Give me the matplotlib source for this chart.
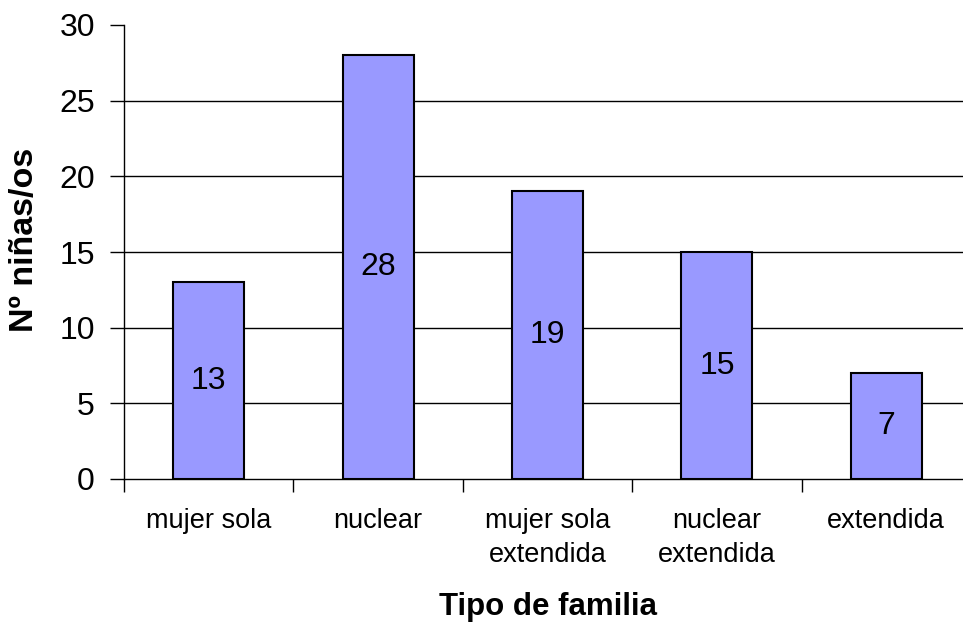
import matplotlib
matplotlib.use("Agg")
import matplotlib.pyplot as plt
import numpy as np

categories = ["mujer sola", "nuclear", "mujer sola\nextendida", "nuclear\nextendida", "extendida"]
values = [13, 28, 19, 15, 7]
yticks = [0, 5, 10, 15, 20, 25, 30]

plt.rcParams['font.family'] = ['Liberation Sans', 'DejaVu Sans']

W, H = 963, 622
fig = plt.figure(figsize=(W / 100, H / 100), dpi=100)
left, right, top, bottom = 124, 971, 25, 479
ax = fig.add_axes([left / W, 1 - bottom / H, (right - left) / W, (bottom - top) / H])

x = np.arange(len(categories))
bars = ax.bar(x, values, width=0.42, color="#9999FF", edgecolor="black", linewidth=1.5, zorder=3)
for xi, v in zip(x, values):
    ax.text(xi, v / 2, str(v), ha="center", va="center", fontsize=23, zorder=4)

ax.set_xlim(-0.5, len(categories) - 0.5)
ax.set_ylim(0, 30)
ax.set_yticks(yticks)
ax.set_yticklabels([str(t) for t in yticks], fontsize=23)
ax.tick_params(axis="y", length=10, width=1, pad=11, direction="out")

ax.set_xticks(x)
ax.set_xticklabels(categories, fontsize=19.5, linespacing=1.38)
ax.tick_params(axis="x", which="major", length=0, pad=21)
ax.set_xticks(np.arange(-0.5, len(categories), 1.0), minor=True)
ax.tick_params(axis="x", which="minor", length=9, width=1, direction="out")

ax.yaxis.grid(True, color="black", linewidth=1, zorder=0)
ax.set_axisbelow(True)
for gl, t in zip(ax.get_ygridlines(), yticks):
    if t in (0, 30):
        gl.set_visible(False)

ax.spines["top"].set_visible(False)
ax.spines["right"].set_visible(False)
ax.spines["left"].set_linewidth(1)
ax.spines["bottom"].set_linewidth(1)

fig.text(548 / W, 1 - 607 / H, "Tipo de familia", ha="center", va="center", fontsize=22.5, fontweight="bold")
fig.text(25 / W, 1 - 240 / H, "Nº niñas/os", ha="center", va="center", rotation=90, fontsize=24.5, fontweight="bold")

fig.savefig("out.png", dpi=100)
